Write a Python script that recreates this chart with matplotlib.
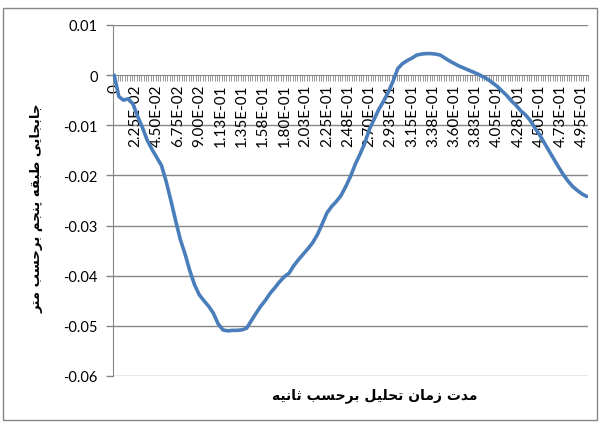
import matplotlib.pyplot as plt
from matplotlib.patches import Rectangle
import numpy as np

# time (s) and displacement (m) of the fifth floor
time = [0.000, 0.005, 0.010, 0.015, 0.020, 0.025, 0.030, 0.035, 0.040, 0.045,
        0.050, 0.055, 0.060, 0.065, 0.070, 0.075, 0.080, 0.085, 0.090, 0.095,
        0.100, 0.105, 0.110, 0.115, 0.120, 0.125, 0.130, 0.135, 0.140, 0.145,
        0.150, 0.155, 0.160, 0.165, 0.170, 0.175, 0.180, 0.185, 0.190, 0.195,
        0.200, 0.205, 0.210, 0.215, 0.220, 0.225, 0.230, 0.235, 0.240, 0.245,
        0.250, 0.255, 0.260, 0.265, 0.270, 0.275, 0.280, 0.285, 0.290, 0.295,
        0.300, 0.305, 0.310, 0.315, 0.320, 0.325, 0.330, 0.335, 0.340, 0.345,
        0.350, 0.355, 0.360, 0.365, 0.370, 0.375, 0.380, 0.385, 0.390, 0.395,
        0.400, 0.405, 0.410, 0.415, 0.420, 0.425, 0.430, 0.435, 0.440, 0.445,
        0.450, 0.455, 0.460, 0.465, 0.470, 0.475, 0.480, 0.485, 0.490, 0.495,
        0.500]
disp = [0.0000, -0.0043, -0.0050, -0.0047, -0.0058, -0.0083, -0.0105, -0.0130, -0.0148, -0.0164,
        -0.0180, -0.0212, -0.0250, -0.0290, -0.0328, -0.0357, -0.0390, -0.0418, -0.0438, -0.0450,
        -0.0461, -0.0475, -0.0496, -0.0508, -0.0510, -0.0509, -0.0509, -0.0508, -0.0505, -0.0490,
        -0.0475, -0.0461, -0.0449, -0.0435, -0.0424, -0.0412, -0.0402, -0.0395, -0.0380, -0.0368,
        -0.0357, -0.0346, -0.0334, -0.0318, -0.0297, -0.0275, -0.0262, -0.0252, -0.0240, -0.0222,
        -0.0202, -0.0178, -0.0158, -0.0136, -0.0108, -0.0088, -0.0068, -0.0052, -0.0034, -0.0012,
        0.0013, 0.0023, 0.0029, 0.0034, 0.0040, 0.0042, 0.0043, 0.0043, 0.0042, 0.0040,
        0.0034, 0.0028, 0.0023, 0.0018, 0.0014, 0.0010, 0.0006, 0.0002, -0.0003, -0.0008,
        -0.0015, -0.0022, -0.0031, -0.0040, -0.0051, -0.0060, -0.0071, -0.0079, -0.0090, -0.0105,
        -0.0119, -0.0135, -0.0151, -0.0167, -0.0183, -0.0198, -0.0211, -0.0222, -0.0230, -0.0237,
        -0.0242]

step = 0.0025          # sampling step of the analysis
n_steps = 201
label_every = 9
x_labels = ['0', '2.25E-02', '4.50E-02', '6.75E-02', '9.00E-02', '1.13E-01',
            '1.35E-01', '1.58E-01', '1.80E-01', '2.03E-01', '2.25E-01', '2.48E-01',
            '2.70E-01', '2.93E-01', '3.15E-01', '3.38E-01', '3.60E-01', '3.83E-01',
            '4.05E-01', '4.28E-01', '4.50E-01', '4.73E-01', '4.95E-01']
y_ticks = [0.01, 0, -0.01, -0.02, -0.03, -0.04, -0.05, -0.06]
y_labels = ['0.01', '0', '-0.01', '-0.02', '-0.03', '-0.04', '-0.05', '-0.06']

x_title = 'مدت زمان تحلیل برحسب ثانیه'
y_title = 'جابجایی طبقه پنجم برحسب متر'

# contextual forms: isolated, final, initial, medial
FORMS = {
    'ا': ('\uFE8D', '\uFE8E', None, None),
    'ب': ('\uFE8F', '\uFE90', '\uFE91', '\uFE92'),
    'پ': ('\uFB56', '\uFB57', '\uFB58', '\uFB59'),
    'ت': ('\uFE95', '\uFE96', '\uFE97', '\uFE98'),
    'ث': ('\uFE99', '\uFE9A', '\uFE9B', '\uFE9C'),
    'ج': ('\uFE9D', '\uFE9E', '\uFE9F', '\uFEA0'),
    'ح': ('\uFEA1', '\uFEA2', '\uFEA3', '\uFEA4'),
    'د': ('\uFEA9', '\uFEAA', None, None),
    'ر': ('\uFEAD', '\uFEAE', None, None),
    'ز': ('\uFEAF', '\uFEB0', None, None),
    'س': ('\uFEB1', '\uFEB2', '\uFEB3', '\uFEB4'),
    'ط': ('\uFEC1', '\uFEC2', '\uFEC3', '\uFEC4'),
    'ق': ('\uFED5', '\uFED6', '\uFED7', '\uFED8'),
    'ل': ('\uFEDD', '\uFEDE', '\uFEDF', '\uFEE0'),
    'م': ('\uFEE1', '\uFEE2', '\uFEE3', '\uFEE4'),
    'ن': ('\uFEE5', '\uFEE6', '\uFEE7', '\uFEE8'),
    'ه': ('\uFEE9', '\uFEEA', '\uFEEB', '\uFEEC'),
    'ی': ('\uFBFC', '\uFBFD', '\uFBFE', '\uFBFF'),
}


def shape(text):
    """Join Persian letters and put them in visual (left-to-right) order."""
    out = []
    for i, ch in enumerate(text):
        if ch not in FORMS:
            out.append(ch)
            continue
        prev = text[i - 1] if i > 0 else ''
        nxt = text[i + 1] if i + 1 < len(text) else ''
        join_prev = prev in FORMS and FORMS[prev][2] is not None
        join_next = FORMS[ch][2] is not None and nxt in FORMS
        iso, fin, ini, med = FORMS[ch]
        if join_prev and join_next:
            out.append(med)
        elif join_prev:
            out.append(fin)
        elif join_next:
            out.append(ini)
        else:
            out.append(iso)
    return ''.join(reversed(out))


grey = '#868686'
blue = '#4A7EBB'

fig = plt.figure(figsize=(6, 4.27), dpi=100)
ax = fig.add_axes([113 / 600, 1 - 377 / 427, 475 / 600, 351 / 427])

ax.plot(time, disp, color=blue, lw=2.6, solid_capstyle='round', zorder=3)

ax.set_xlim(-step / 2, (n_steps - 0.5) * step)
ax.set_ylim(-0.06, 0.01)

for y in y_ticks:
    if y != 0:
        ax.axhline(y, color=grey, lw=1, zorder=1)

for side in ['top', 'right']:
    ax.spines[side].set_visible(False)
ax.spines['bottom'].set_position(('data', 0))
ax.spines['bottom'].set_color(grey)
ax.spines['left'].set_color(grey)
ax.spines['bottom'].set_zorder(2)

# one small tick per time step, labels every ninth step
ax.set_xticks([k * label_every * step for k in range(len(x_labels))])
ax.set_xticklabels(x_labels, rotation=90, family='Lato', fontsize=11)
ax.set_xticks([(k - 0.5) * step for k in range(n_steps + 1)], minor=True)
ax.tick_params(axis='x', which='major', length=0, pad=6)
ax.tick_params(axis='x', which='minor', length=4, width=0.6, color=grey, direction='out')

ax.set_yticks(y_ticks)
ax.set_yticklabels(y_labels, family='Lato', fontsize=10.5)
ax.tick_params(axis='y', length=5, width=1, color=grey, pad=6)

fig.text(375 / 600, 1 - 396 / 427, shape(x_title), ha='center', va='center',
         family='DejaVu Sans', fontweight='bold', fontsize=10)
fig.text(37 / 600, 1 - 208 / 427, shape(y_title), ha='center', va='center',
         rotation=90, family='DejaVu Sans', fontweight='bold', fontsize=9.5)

fig.patches.append(Rectangle((3 / 600, 1 - 421 / 427), 594 / 600, 412 / 427,
                             transform=fig.transFigure, fill=False,
                             edgecolor=grey, lw=1))

fig.savefig('out.png', dpi=100)
